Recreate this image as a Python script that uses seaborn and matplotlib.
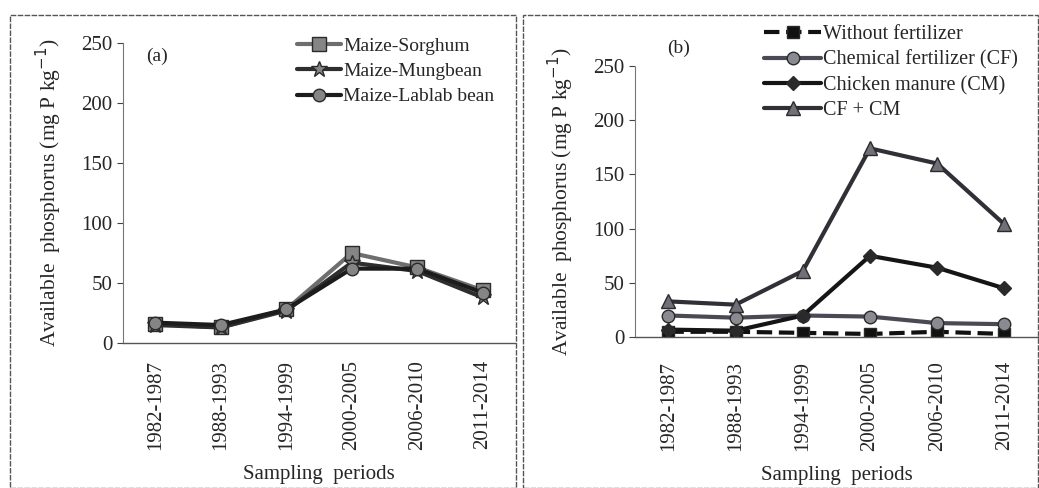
import matplotlib.pyplot as plt
import pandas as pd
import seaborn as sns
from matplotlib.patches import Rectangle

# Données
periods = ["1982-1987", "1988-1993", "1994-1999", "2000-2005", "2006-2010", "2011-2014"]

sorghum = [16, 13, 28, 75, 63, 44]
mungbean = [15, 13, 27, 67, 60, 38]
lablab = [17, 15, 28, 62, 62, 42]

without_fert = [5, 5, 4, 3, 5, 3]
chem_fert = [20, 18, 20, 19, 13, 12]
chicken_manure = [7, 6, 20, 75, 64, 45]
cf_cm = [33, 30, 61, 174, 160, 104]

sns.set_theme(style="white")
plt.rcParams['font.family'] = ['Liberation Serif', 'DejaVu Serif']

fig = plt.figure(figsize=(10.39, 4.88), dpi=100)
ax_a = fig.add_axes([0.118, 0.297, 0.378, 0.615])
ax_b = fig.add_axes([0.611, 0.309, 0.388, 0.556])

df_a = pd.DataFrame({"period": periods, "Maize-Sorghum": sorghum,
                     "Maize-Mungbean": mungbean, "Maize-Lablab bean": lablab})
df_b = pd.DataFrame({"period": periods, "Without fertilizer": without_fert,
                     "Chemical fertilizer (CF)": chem_fert,
                     "Chicken manure (CM)": chicken_manure, "CF + CM": cf_cm})

styles_a = {
    "Maize-Sorghum": dict(color="#6e6e6e", marker="s", linestyle="-", ms=10),
    "Maize-Mungbean": dict(color="#2e2e2e", marker="*", linestyle="-", ms=12),
    "Maize-Lablab bean": dict(color="#1c1c1c", marker="o", linestyle="-", ms=9),
}
styles_b = {
    "Without fertilizer": dict(color="#111111", marker="s", linestyle="--", ms=9, mfc="#111111"),
    "Chemical fertilizer (CF)": dict(color="#4a4a55", marker="o", linestyle="-", ms=9, mfc="#8a8a92"),
    "Chicken manure (CM)": dict(color="#151515", marker="D", linestyle="-", ms=7, mfc="#2a2a2a"),
    "CF + CM": dict(color="#303036", marker="^", linestyle="-", ms=10, mfc="#707078"),
}


def draw(ax, df, styles, xpad):
    for name, st in styles.items():
        sns.lineplot(data=df, x="period", y=name, ax=ax, label=name,
                     color=st["color"], marker=st["marker"], linestyle=st["linestyle"],
                     markersize=st["ms"], linewidth=3,
                     markerfacecolor=st.get("mfc", "#858585"),
                     markeredgecolor="#2a2a2a", markeredgewidth=1)
    ax.set_ylim(0, 250)
    ax.set_xlim(-0.5, 5.5)
    ax.set_yticks([0, 50, 100, 150, 200, 250])
    ax.set_xticks(range(len(periods)))
    ax.set_xticklabels(periods, rotation=90, fontsize=15)
    ax.set_xticks([i - 0.5 for i in range(len(periods) + 1)], minor=True)
    ax.tick_params(axis="x", which="major", length=0, pad=xpad)
    ax.tick_params(axis="x", which="minor", length=5, width=0.8, color="#444444", direction="out")
    ax.tick_params(axis="y", labelsize=15, length=4, width=0.8, color="#444444", left=True)
    ax.set_xlabel("Sampling  periods", fontsize=15, labelpad=11)
    ax.set_ylabel("Available  phosphorus (mg P kg$^{-1}$)", fontsize=15.5, labelpad=12)
    for s in ["top", "right"]:
        ax.spines[s].set_visible(False)
    ax.spines["left"].set_color("#777777")
    ax.spines["left"].set_linestyle((0, (3, 1)))
    ax.spines["left"].set_linewidth(0.8)
    ax.spines["bottom"].set_color("#555555")
    ax.spines["bottom"].set_linewidth(1)


draw(ax_a, df_a, styles_a, 12)
draw(ax_b, df_b, styles_b, 17)

ax_a.text(0.06, 0.985, "(a)", transform=ax_a.transAxes, fontsize=14, va="top")
ax_b.text(0.08, 1.095, "(b)", transform=ax_b.transAxes, fontsize=14, va="top")

ax_a.legend(loc="upper left", bbox_to_anchor=(0.278, 0.94), bbox_transform=fig.transFigure,
            frameon=False, fontsize=14, handlelength=2.3, handletextpad=0.1,
            labelspacing=0.4, borderaxespad=0)
ax_b.legend(loc="upper left", bbox_to_anchor=(0.728, 0.965), bbox_transform=fig.transFigure,
            frameon=False, fontsize=14.5, handlelength=2.8, handletextpad=0.1,
            labelspacing=0.3, borderaxespad=0)

# Cadres des deux panneaux
for x0, x1 in [(10, 516), (523, 1038)]:
    fig.add_artist(Rectangle((x0 / 1039, 0), (x1 - x0) / 1039, 1 - 15 / 488,
                             transform=fig.transFigure, fill=False,
                             edgecolor="#555555", linewidth=1, linestyle=(0, (4, 1))))

fig.savefig("out.png", dpi=100)
